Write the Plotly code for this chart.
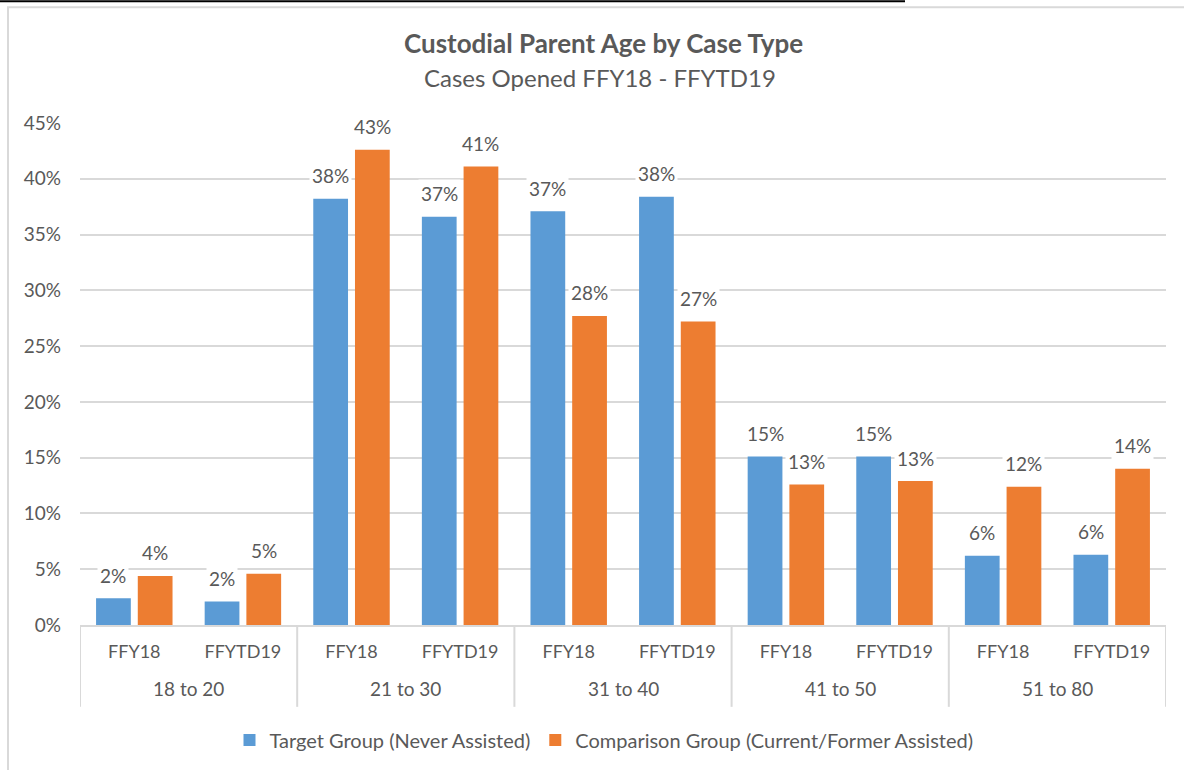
import plotly.graph_objects as go

age_groups = ["18 to 20", "21 to 30", "31 to 40", "41 to 50", "51 to 80"]
years = ["FFY18", "FFYTD19"]
target = [0.024, 0.021, 0.382, 0.366, 0.371, 0.384, 0.151, 0.151, 0.062, 0.063]
comparison = [0.044, 0.046, 0.426, 0.411, 0.277, 0.272, 0.126, 0.129, 0.124, 0.140]
series_names = ["Target Group (Never Assisted)", "Comparison Group (Current/Former Assisted)"]
colors = ["#5B9BD5", "#ED7D31"]

inner = [y for _ in age_groups for y in years]
xpos = list(range(len(inner)))

W, H = 1184, 770
L, R, T, B = 80, 18, 123, 144
pw, ph = W - L - R, H - T - B
def px(x):
    return (x - L) / pw
def py(y):
    return (H - B - y) / ph

FONT = "Lato, Carlito, Calibri, sans-serif"
GRAY = "#595959"
LINE = "#D9D9D9"
bar_w = 0.32
offsets = [-0.352, 0.032]

fig = go.Figure()
for name, vals, col, off in zip(series_names, [target, comparison], colors, offsets):
    fig.add_trace(go.Bar(
        x=xpos, y=vals, name=name, marker=dict(color=col, line=dict(width=0)),
        width=bar_w, offset=off, hoverinfo="y",
    ))

annotations = []
for vals, off in zip([target, comparison], offsets):
    for i, v in enumerate(vals):
        annotations.append(dict(
            x=i + off + bar_w / 2, y=v, xref="x", yref="y", text=f"{round(v*100):.0f}%",
            showarrow=False, yshift=23, yanchor="middle", bgcolor="white", borderpad=2,
            font=dict(family=FONT, size=19, color=GRAY),
        ))

n_in = len(years)
shapes = []
for k, g in enumerate(age_groups):
    annotations.append(dict(x=k * n_in + (n_in - 1) / 2, y=py(690), xref="x", yref="paper",
                            text=g, showarrow=False, yanchor="middle",
                            font=dict(family=FONT, size=19, color=GRAY)))
for k in range(len(age_groups) + 1):
    xd = k * n_in - 0.5
    shapes.append(dict(type="line", xref="x", yref="paper", x0=xd, x1=xd, y0=0, y1=py(708),
                       line=dict(color=LINE, width=2)))

annotations.append(dict(x=px(603), y=py(43), xref="paper", yref="paper",
                        text="<b>Custodial Parent Age by Case Type</b>", showarrow=False,
                        yanchor="middle", font=dict(family=FONT, size=26, color=GRAY)))
annotations.append(dict(x=px(600), y=py(77), xref="paper", yref="paper",
                        text="Cases Opened FFY18 - FFYTD19", showarrow=False,
                        yanchor="middle", font=dict(family=FONT, size=24, color=GRAY)))

shapes += [
    dict(type="rect", xref="paper", yref="paper", x0=px(8), x1=px(1200), y0=py(800), y1=py(7),
         line=dict(color=LINE, width=2), layer="below"),
    dict(type="line", xref="paper", yref="paper", x0=px(0), x1=px(905), y0=py(1), y1=py(1),
         line=dict(color="black", width=2)),
]

fig.update_layout(
    width=W, height=H,
    margin=dict(l=L, r=R, t=T, b=B),
    paper_bgcolor="white", plot_bgcolor="white",
    font=dict(family=FONT, size=16, color=GRAY),
    showlegend=True,
    legend=dict(orientation="h", x=px(604), xanchor="center", y=py(740), yanchor="middle",
                font=dict(family=FONT, size=20, color=GRAY), itemwidth=30, traceorder="normal"),
    xaxis=dict(range=[-0.5, len(inner) - 0.5], tickmode="array", tickvals=xpos, ticktext=inner,
               showline=True, linecolor=LINE, linewidth=2, ticks="", showgrid=False,
               zeroline=False, ticklabelstandoff=9,
               tickfont=dict(family=FONT, size=18, color=GRAY)),
    yaxis=dict(range=[0, 0.45], dtick=0.05, tickformat=".0%", showgrid=True,
               gridcolor=LINE, gridwidth=2, zeroline=False, showline=False,
               tickfont=dict(family=FONT, size=19, color=GRAY), ticklabelstandoff=18),
    annotations=annotations, shapes=shapes,
)

fig.write_html("out.html")
